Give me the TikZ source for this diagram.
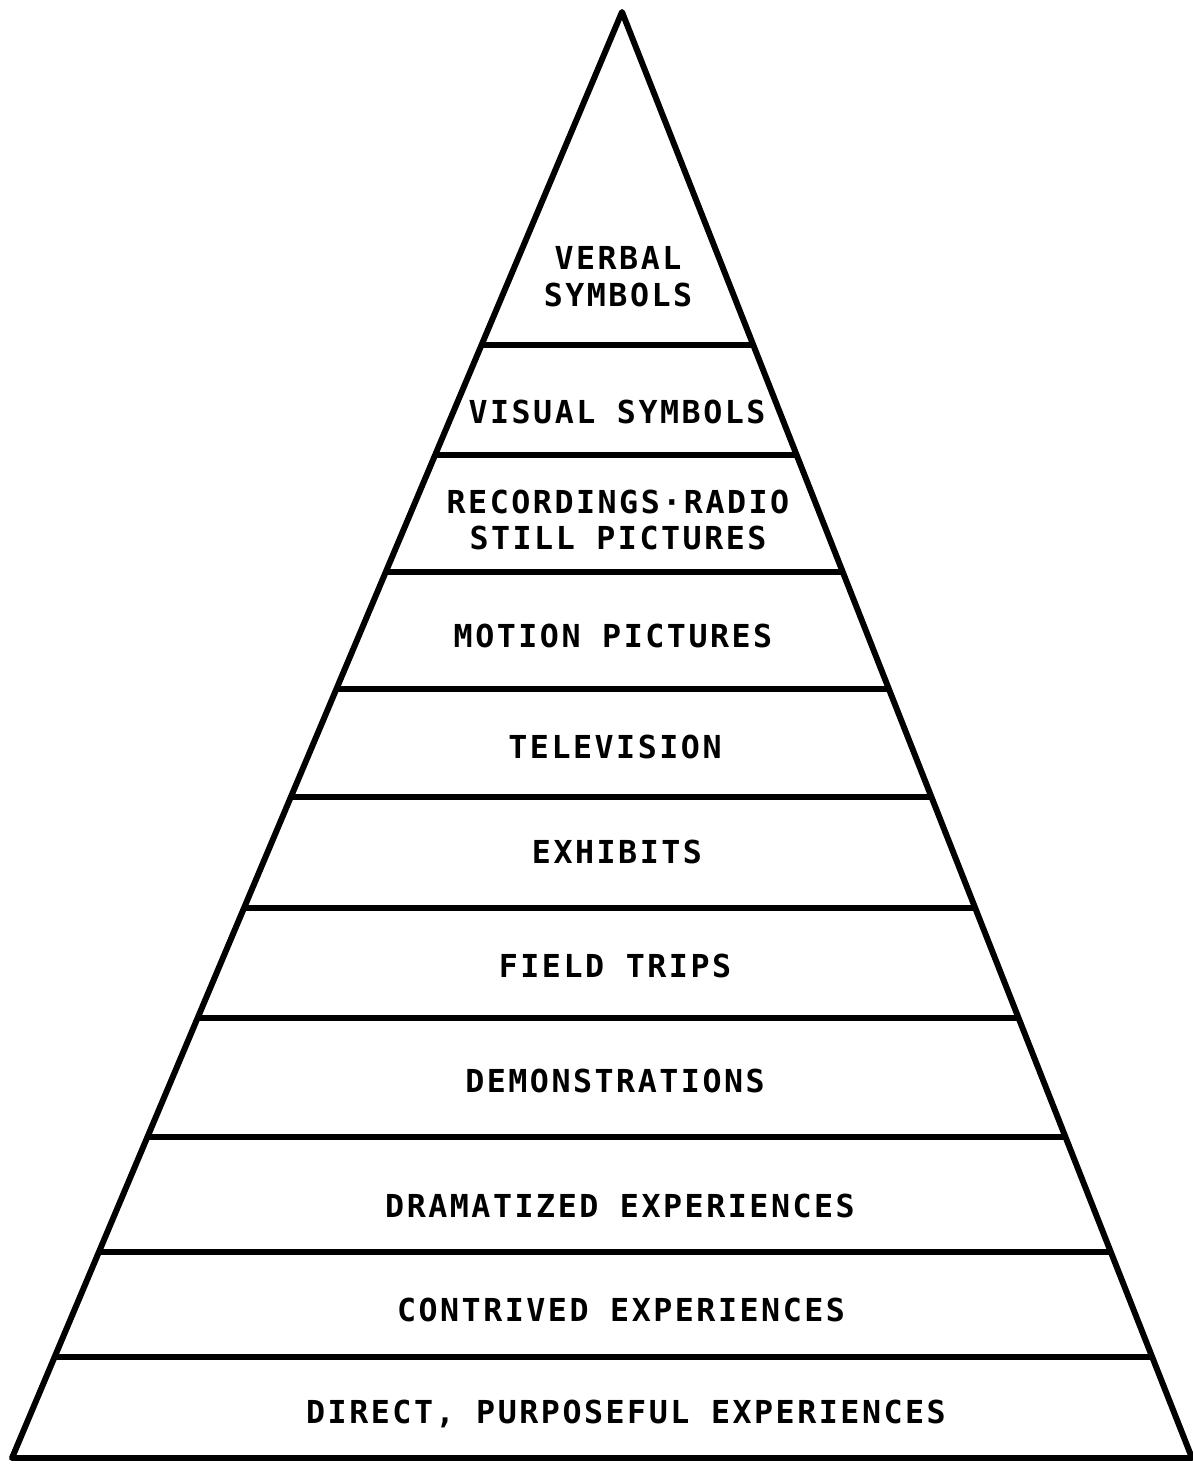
\documentclass[tikz,border=0pt]{standalone}
\usepackage{fontspec}
\newfontfamily\conefont[LetterSpace=8]{DejaVu Sans Mono}
\usetikzlibrary{calc}
\tikzset{
    cone line/.style={line width=1.7pt, line join=round},
    level/.style={font=\conefont\bfseries\fontsize{9}{10.5}\selectfont, align=center, inner sep=1pt},
}

\begin{document}
\begin{tikzpicture}
    \useasboundingbox (0,0) rectangle (11.93,14.64);

    \coordinate (apex) at (6.22, 14.52);
    \coordinate (left) at (0.12, 0.06);
    \coordinate (right) at (11.92, 0.06);

    \draw[cone line] (left) -- (apex) -- (right) -- cycle;

    % levels of the cone
    \foreach \t in {0.2303, 0.3064, 0.3873, 0.4682, 0.5429, 0.6196, 0.6957, 0.7780, 0.8575, 0.9302}
        \draw[cone line] ($(apex)!\t!(left)$) -- ($(apex)!\t!(right)$);

    \node[level] (verbal) at (6.18, 11.87) {VERBAL\\SYMBOLS};
    \node[level] (visual) at (6.17, 10.52) {VISUAL SYMBOLS};
    \node[level] (recordings) at (6.18, 9.44) {RECORDINGS·RADIO\\STILL PICTURES};
    \node[level] (motion) at (6.13, 8.28) {MOTION PICTURES};
    \node[level] (television) at (6.15, 7.17) {TELEVISION};
    \node[level] (exhibits) at (6.17, 6.12) {EXHIBITS};
    \node[level] (field) at (6.15, 4.98) {FIELD TRIPS};
    \node[level] (demonstrations) at (6.15, 3.83) {DEMONSTRATIONS};
    \node[level] (dramatized) at (6.20, 2.58) {DRAMATIZED EXPERIENCES};
    \node[level] (contrived) at (6.21, 1.54) {CONTRIVED EXPERIENCES};
    \node[level] (direct) at (6.26, 0.50) {DIRECT, PURPOSEFUL EXPERIENCES};
\end{tikzpicture}
\end{document}
